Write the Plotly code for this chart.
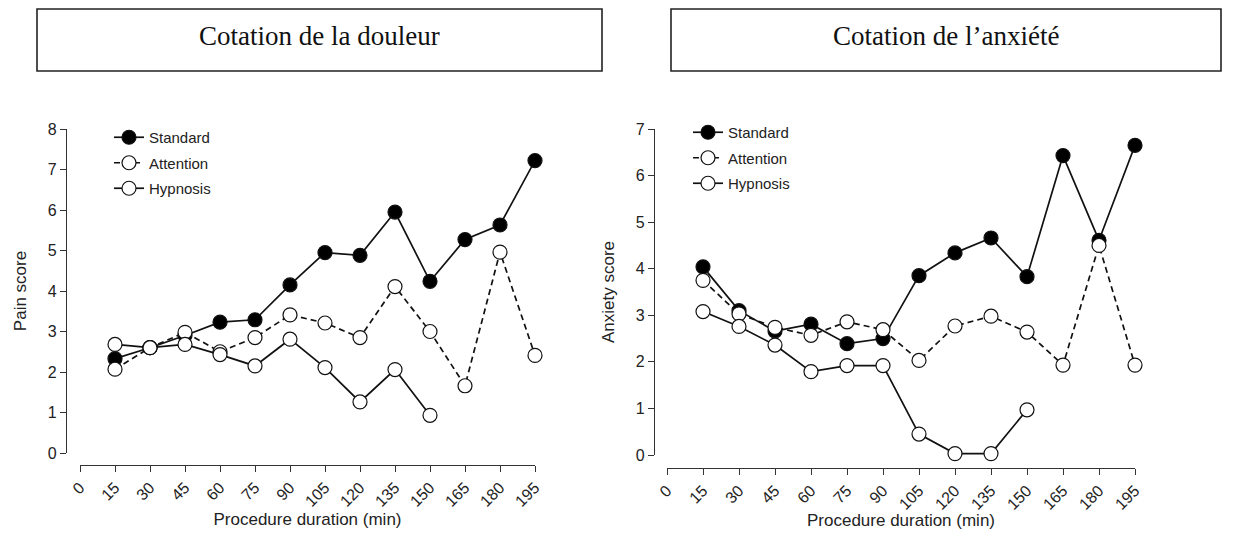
import plotly.graph_objects as go

minutes = [15, 30, 45, 60, 75, 90, 105, 120, 135, 150, 165, 180, 195]
hyp_minutes = [15, 30, 45, 60, 75, 90, 105, 120, 135, 150]
x_ticks = [0, 15, 30, 45, 60, 75, 90, 105, 120, 135, 150, 165, 180, 195]

pain_standard = [2.33, 2.6, 2.9, 3.23, 3.29, 4.15, 4.95, 4.88, 5.95, 4.24, 5.27, 5.63, 7.22]
pain_attention = [2.07, 2.6, 2.98, 2.5, 2.85, 3.41, 3.21, 2.85, 4.11, 3.0, 1.66, 4.96, 2.41]
pain_hypnosis = [2.68, 2.6, 2.68, 2.43, 2.15, 2.81, 2.11, 1.26, 2.06, 0.93]

anx_standard = [4.04, 3.1, 2.66, 2.81, 2.39, 2.5, 3.85, 4.34, 4.66, 3.83, 6.43, 4.61, 6.65]
anx_attention = [3.75, 3.03, 2.74, 2.57, 2.86, 2.69, 2.03, 2.77, 2.98, 2.64, 1.93, 4.5, 1.93]
anx_hypnosis = [3.08, 2.76, 2.36, 1.79, 1.92, 1.92, 0.45, 0.03, 0.03, 0.97]

series_names = ["Standard", "Attention", "Hypnosis"]
panel_titles = ["Cotation de la douleur", "Cotation de l\u2019anxiété"]
y_titles = ["Pain score", "Anxiety score"]
x_title = "Procedure duration (min)"

# page body has an 8px margin; figure is sized to fit the window
OFF = 8
W, H = 1238 - 2 * OFF, 538 - 2 * OFF

def px(x):
    return (x - OFF) / W

def py(y):
    return 1 - (y - OFF) / H

fig = go.Figure()

panels = [
    dict(std=pain_standard, att=pain_attention, hyp=pain_hypnosis, xa="x", ya="y", leg="legend"),
    dict(std=anx_standard, att=anx_attention, hyp=anx_hypnosis, xa="x2", ya="y2", leg="legend2"),
]

mk = 14
for p in panels:
    common = dict(xaxis=p["xa"], yaxis=p["ya"], legend=p["leg"], mode="lines+markers", cliponaxis=False)
    fig.add_trace(go.Scatter(x=minutes, y=p["std"], name=series_names[0], legendgroup="a",
                             line=dict(color="#111", width=1.7),
                             marker=dict(size=mk, color="black", line=dict(color="#111", width=1.2)),
                             **common))
    fig.add_trace(go.Scatter(x=minutes, y=p["att"], name=series_names[1], legendgroup="b",
                             line=dict(color="#111", width=1.7, dash="6px,4px"),
                             marker=dict(size=mk, color="white", line=dict(color="#111", width=1.2)),
                             **common))
    fig.add_trace(go.Scatter(x=hyp_minutes, y=p["hyp"], name=series_names[2], legendgroup="c",
                             line=dict(color="#111", width=1.7),
                             marker=dict(size=mk, color="white", line=dict(color="#111", width=1.2)),
                             **common))

SANS = "Liberation Sans, Arial, sans-serif"
title_font = dict(family=SANS, size=17, color="#222")
tick_font = dict(family=SANS, size=16, color="#222")

def xaxis(domain, pos):
    return dict(domain=domain, anchor="free", position=pos, range=[0, 195], automargin=False,
                tickvals=x_ticks, ticktext=[str(v) for v in x_ticks], tickangle=-45,
                ticks="outside", ticklen=6, tickwidth=1.2, tickcolor="#333",
                showline=True, linecolor="#333", linewidth=1.2, showgrid=False, zeroline=False,
                tickfont=tick_font,
                title=dict(text=x_title, font=title_font, standoff=4))

def yaxis(domain, pos, rmax, title):
    return dict(domain=domain, anchor="free", position=pos, range=[0, rmax], dtick=1, automargin=False,
                ticks="outside", ticklen=6, tickwidth=1.2, tickcolor="#333",
                showline=True, linecolor="#333", linewidth=1.2, showgrid=False, zeroline=False,
                tickfont=tick_font,
                title=dict(text=title, font=title_font))

leg_common = dict(xanchor="left", yanchor="top", bgcolor="rgba(0,0,0,0)",
                  font=dict(family=SANS, size=15, color="#222"),
                  traceorder="grouped", tracegroupgap=3, itemwidth=30)

fig.update_layout(
    width=W, height=H,
    margin=dict(l=0, r=0, t=0, b=0, autoexpand=False),
    paper_bgcolor="white", plot_bgcolor="white",
    showlegend=True,
    xaxis=xaxis([px(80), px(535)], py(465)),
    yaxis=yaxis([py(453), py(129)], px(66), 8, y_titles[0]),
    xaxis2=xaxis([px(667), px(1135)], py(468)),
    yaxis2=yaxis([py(455), py(129)], px(654), 7, y_titles[1]),
    legend=dict(x=px(109), y=py(121), **leg_common),
    legend2=dict(x=px(688), y=py(116), **leg_common),
)

boxes = [(37, 602), (671, 1221)]
for (x0, x1), t in zip(boxes, panel_titles):
    fig.add_shape(type="rect", xref="paper", yref="paper", x0=px(x0), x1=px(x1), y0=py(71), y1=py(9),
                  line=dict(color="#222", width=1.6), fillcolor="white")
    fig.add_annotation(xref="paper", yref="paper", x=px((x0 + x1) / 2), y=py(36), text=t, showarrow=False,
                       font=dict(family="Liberation Serif, Times New Roman, serif", size=27, color="#111"),
                       xanchor="center", yanchor="middle")

fig.write_html("out.html")
